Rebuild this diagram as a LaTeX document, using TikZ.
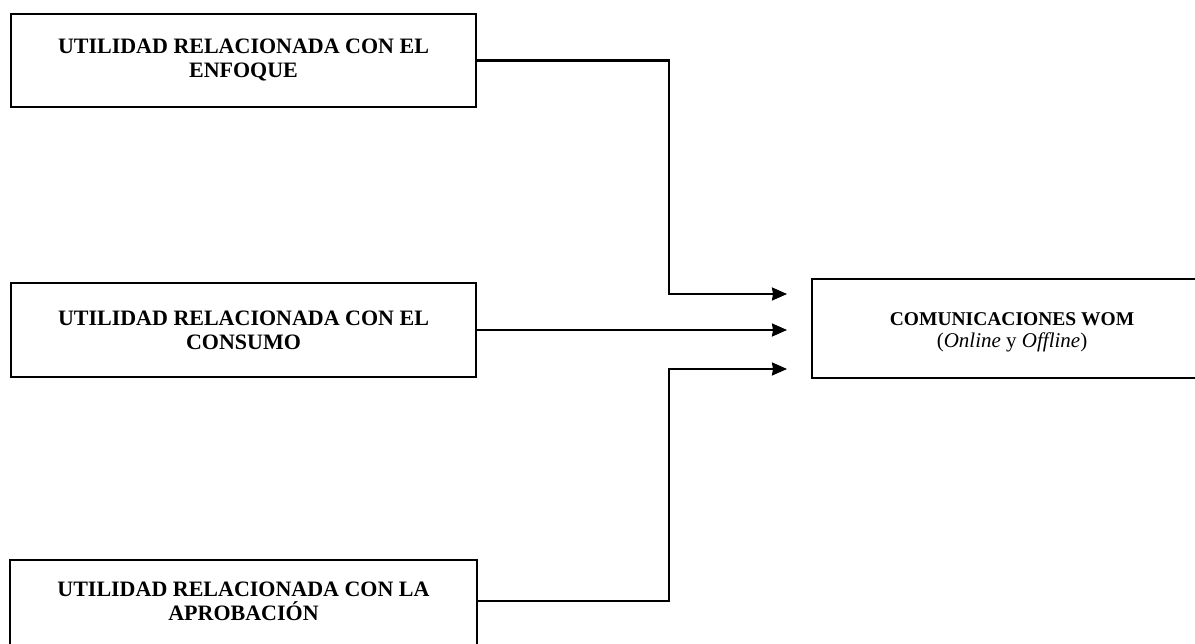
\documentclass[tikz,border=0pt]{standalone}
\usepackage{fontspec}
\setmainfont{Liberation Serif}
\usetikzlibrary{arrows.meta}
\begin{document}
\begin{tikzpicture}[x=1pt,y=-1pt,
  frame/.style={line width=2.1pt},
  box/.style={draw, frame, inner sep=0pt, minimum width=465pt, align=center},
  lbl/.style={font=\bfseries\fontsize{22}{24}\selectfont},
  link/.style={frame, -{Stealth[length=15pt,width=13pt,inset=1pt]}}]
\useasboundingbox (0,0) rectangle (1195,644);

% source boxes on the left
\node[box, lbl, minimum height=93pt] (enfoque) at (243.5,60.5)
  {UTILIDAD RELACIONADA CON EL\\ENFOQUE};
\node[box, lbl, minimum height=94pt] (consumo) at (243.5,330)
  {UTILIDAD RELACIONADA CON EL\\CONSUMO};
% the lowest box runs off the bottom edge
\node[box, lbl, draw=none, minimum height=80pt] (aprob) at (243.5,601)
  {UTILIDAD RELACIONADA CON LA\\APROBACIÓN};
\draw[frame] ([yshift=-30pt]aprob.south west) -- (aprob.north west)
  -- (aprob.north east) -- ([yshift=-30pt]aprob.south east);

% target box, running off the right edge
\node[draw, frame, inner sep=0pt, minimum width=400pt, minimum height=99pt,
  align=center, anchor=west, font=\fontsize{21}{22}\selectfont] (wom) at (811,328.5)
  {\rule{0pt}{21pt}{\bfseries\fontsize{19.5}{22}\selectfont COMUNICACIONES WOM}\\
   (\textit{Online} y \textit{Offline})};

% junction column and arrow tips
\coordinate (bend) at (669,0);
\coordinate (tips) at (787,0);
\coordinate (t1) at (787,294);
\coordinate (t3) at (787,369);

\draw[link] (enfoque.east) -- (enfoque.east -| bend) |- (t1);
\draw[link] (consumo.east) -- (consumo.east -| tips);
\draw[link] (aprob.east) -- (aprob.east -| bend) |- (t3);
\end{tikzpicture}
\end{document}
